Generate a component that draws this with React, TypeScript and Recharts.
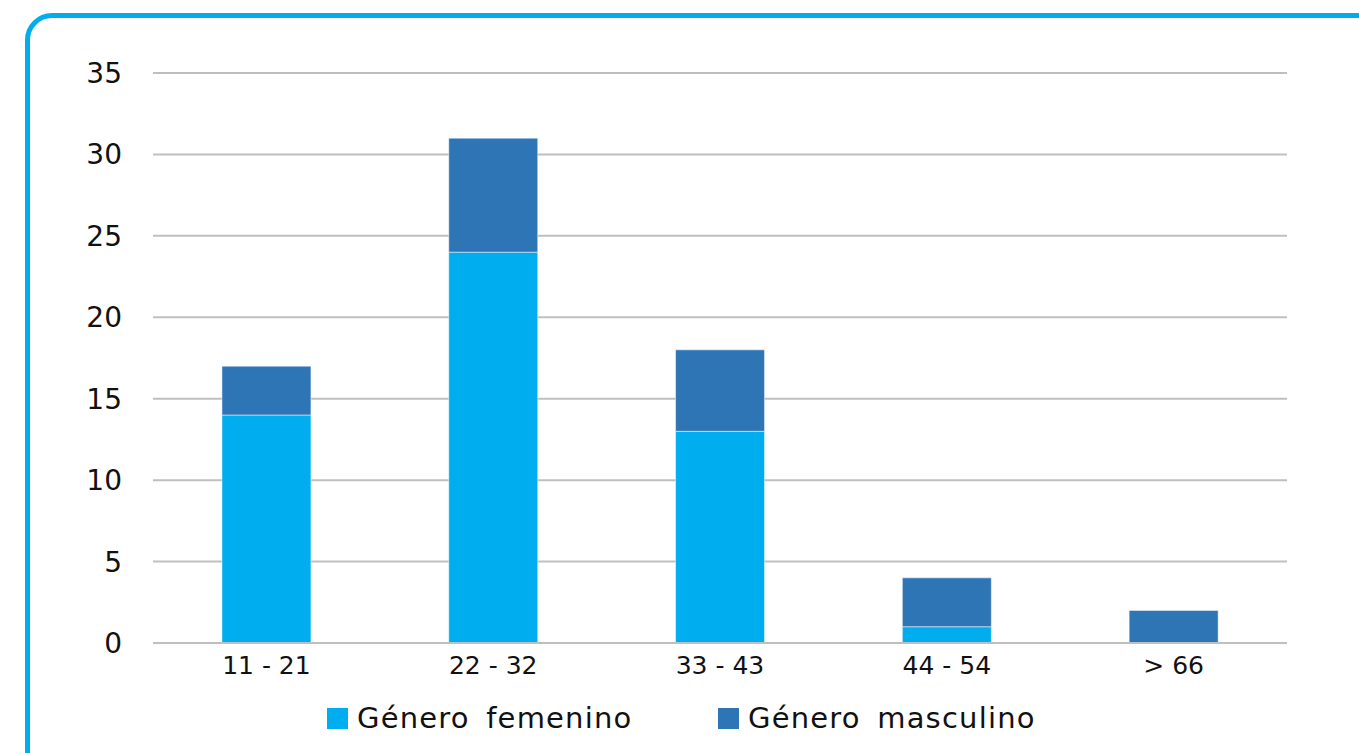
import { Bar, BarChart, CartesianGrid, Legend, XAxis, YAxis } from 'recharts';

const ageGroups = ['11 - 21', '22 - 32', '33 - 43', '44 - 54', '> 66'];
const femenino = [14, 24, 13, 1, 0];
const masculino = [3, 7, 5, 3, 2];
const yTicks = [0, 5, 10, 15, 20, 25, 30, 35];

const seriesNames = { fem: 'Género femenino', masc: 'Género masculino' };
const colors = { fem: '#00AEEF', masc: '#2E75B6' };

const data = ageGroups.map((group, i) => ({
  group,
  fem: femenino[i],
  masc: masculino[i],
}));

const FONT = '"DejaVu Sans", sans-serif';
const INK = '#111111';

function LegendRow({ payload }: { payload?: any[] }) {
  return (
    <div style={{ display: 'flex', alignItems: 'center', fontFamily: FONT }}>
      {(payload ?? []).map((entry, i) => (
        <div key={entry.value} style={{ display: 'flex', alignItems: 'center', width: i === 0 ? 391 : 'auto' }}>
          <span style={{ width: 21, height: 21, background: entry.color, display: 'inline-block', marginRight: 9 }} />
          <span style={{ fontSize: 29, color: INK, letterSpacing: 1.2, wordSpacing: 6, whiteSpace: 'nowrap' }}>{entry.value}</span>
        </div>
      ))}
    </div>
  );
}

export default function App() {
  return (
    <div style={{ position: 'fixed', left: 0, top: 0, width: 1359, height: 753, overflow: 'hidden', background: '#fff' }}>
      <div
        style={{
          position: 'absolute',
          left: 25,
          top: 13,
          width: 1420,
          height: 820,
          border: '5px solid #00AEEF',
          borderRadius: 27,
        }}
      />
      <div style={{ position: 'absolute', left: 0, top: 0 }}>
        <BarChart
          width={1359}
          height={753}
          data={data}
          margin={{ top: 73, right: 72, bottom: 80, left: 0 }}
          barCategoryGap="30.4%"
        >
          <CartesianGrid vertical={false} stroke="#BFBFBF" strokeWidth={2} />
          <XAxis
            dataKey="group"
            axisLine={{ stroke: '#BFBFBF', strokeWidth: 2 }}
            tickLine={false}
            tickSize={0}
            tickMargin={13}
            tick={{ fill: INK, fontSize: 25, fontFamily: FONT }}
          />
          <YAxis
            width={153}
            domain={[0, 35]}
            ticks={yTicks}
            axisLine={false}
            tickLine={false}
            tickSize={0}
            tickMargin={31}
            tick={{ fill: INK, fontSize: 28, fontFamily: FONT }}
          />
          <Legend
            layout="horizontal"
            verticalAlign="middle"
            align="center"
            wrapperStyle={{ left: 327, top: 701, width: 900 }}
            content={(props: any) => <LegendRow payload={props.payload} />}
          />
          <Bar dataKey="fem" name={seriesNames.fem} stackId="a" fill={colors.fem} stroke="#ffffff" strokeOpacity={0.5} strokeWidth={1} isAnimationActive={false} />
          <Bar dataKey="masc" name={seriesNames.masc} stackId="a" fill={colors.masc} stroke="#ffffff" strokeOpacity={0.5} strokeWidth={1} isAnimationActive={false} />
        </BarChart>
      </div>
    </div>
  );
}
